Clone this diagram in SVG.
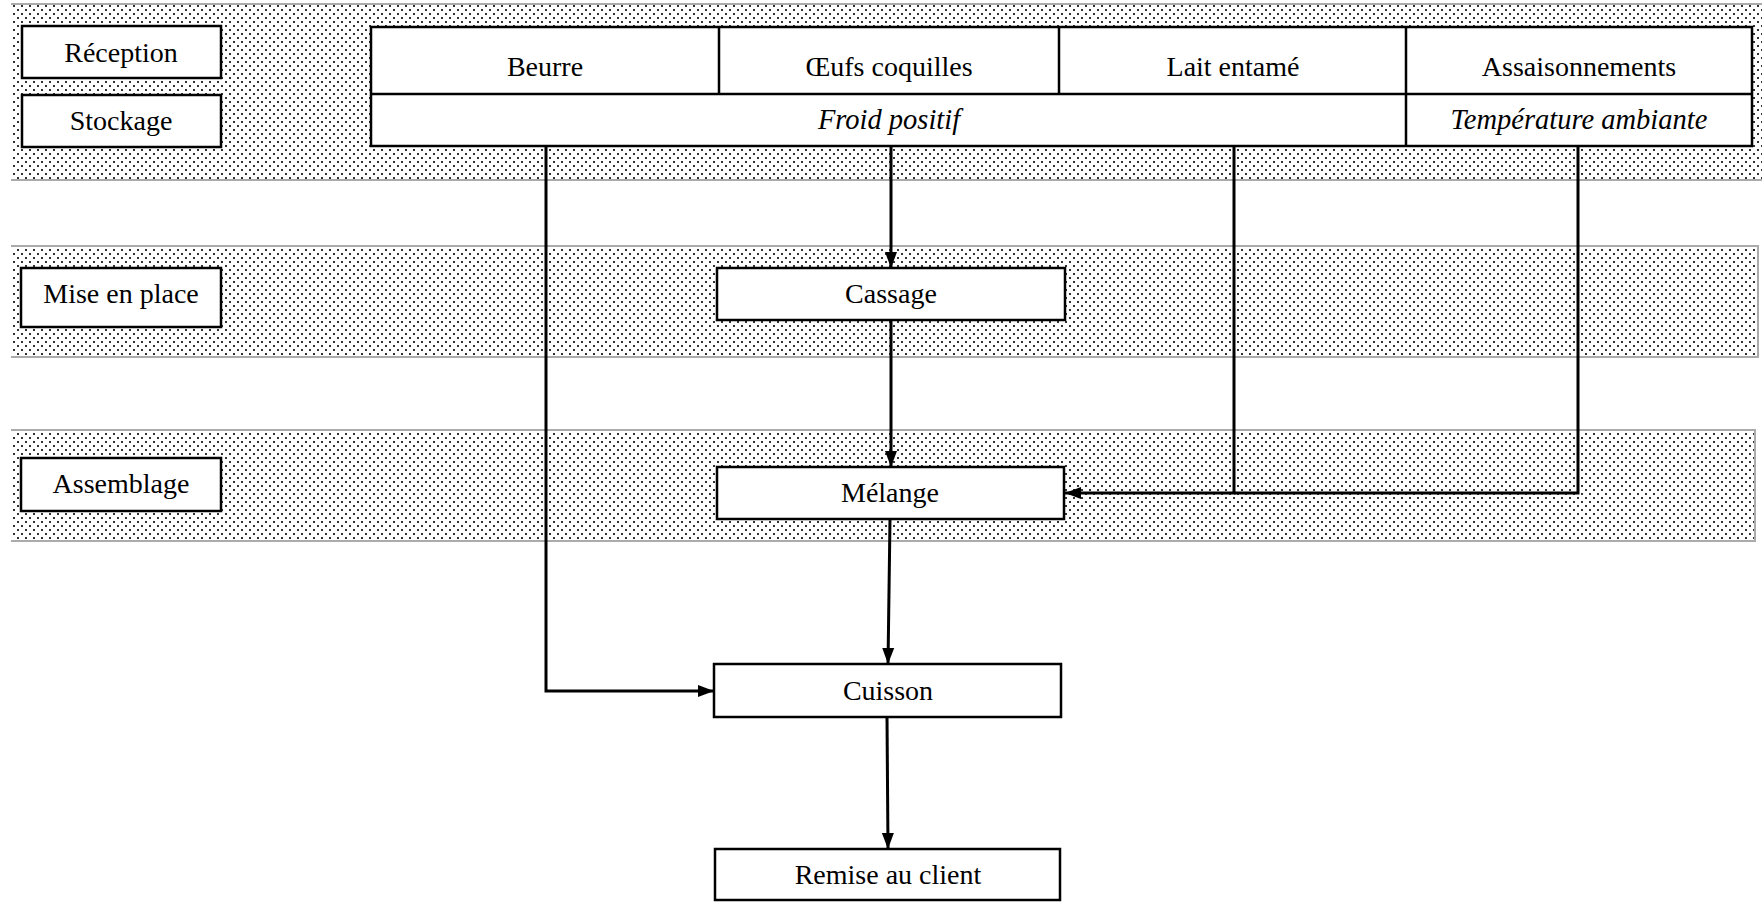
<svg xmlns="http://www.w3.org/2000/svg" width="1762" height="902" viewBox="0 0 1762 902">
  <style>
    .band-edge { fill: none; stroke: #ababab; stroke-width: 2; }
    .box { fill: #ffffff; stroke: #000000; stroke-width: 2.5; }
    .rule { fill: none; stroke: #000000; stroke-width: 2.5; }
    .flow { fill: none; stroke: #000000; stroke-width: 3; }
    text { font-family: "Liberation Serif", "Times New Roman", serif; font-size: 28px; fill: #000000; text-anchor: middle; }
    .it { font-style: italic; font-size: 28.5px; }
  </style>
  <defs>
    <pattern id="dots" x="0" y="0" width="8" height="8" patternUnits="userSpaceOnUse">
      <rect width="8" height="8" fill="#ffffff"/>
      <rect x="1" y="1" width="2" height="2" fill="#333333"/>
      <rect x="5" y="5" width="2" height="2" fill="#333333"/>
    </pattern>
    <marker id="head" markerUnits="userSpaceOnUse" markerWidth="17" markerHeight="14" refX="16" refY="7" orient="auto">
      <path d="M0,1 L16,7 L0,13 Z" fill="#000000"/>
    </marker>
  </defs>

  <!-- shaded stage bands -->
  <g id="band-reception">
    <rect x="11" y="4" width="1751" height="176" fill="url(#dots)"/>
    <path class="band-edge" d="M11,4 H1762 M11,180 H1762"/>
  </g>
  <g id="band-mise-en-place">
    <rect x="11" y="246" width="1747" height="111" fill="url(#dots)"/>
    <path class="band-edge" d="M11,246 H1758 V357 H11"/>
  </g>
  <g id="band-assemblage">
    <rect x="11" y="430" width="1744" height="111" fill="url(#dots)"/>
    <path class="band-edge" d="M11,430 H1755 V541 H11"/>
  </g>

  <!-- stage labels -->
  <g id="label-reception">
    <rect class="box" x="22" y="26" width="199" height="52"/>
    <text x="121" y="62">Réception</text>
  </g>
  <g id="label-stockage">
    <rect class="box" x="22" y="95" width="199" height="52"/>
    <text x="121" y="130">Stockage</text>
  </g>
  <g id="label-mise-en-place">
    <rect class="box" x="21" y="268" width="200" height="59"/>
    <text x="121" y="303">Mise en place</text>
  </g>
  <g id="label-assemblage">
    <rect class="box" x="21" y="458" width="200" height="53"/>
    <text x="121" y="493">Assemblage</text>
  </g>

  <!-- ingredients table -->
  <g id="ingredients">
    <rect class="box" x="371" y="27" width="1381" height="119"/>
    <path class="rule" d="M371,94 H1752 M719,27 V94 M1059,27 V94 M1406,27 V146"/>
    <text x="545" y="76">Beurre</text>
    <text x="889" y="76">Œufs coquilles</text>
    <text x="1233" y="76">Lait entamé</text>
    <text x="1579" y="76">Assaisonnements</text>
    <text class="it" x="889" y="129">Froid positif</text>
    <text class="it" x="1579" y="129">Température ambiante</text>
  </g>

  <!-- process steps -->
  <g id="cassage">
    <rect class="box" x="717" y="268" width="348" height="52"/>
    <text x="891" y="303">Cassage</text>
  </g>
  <g id="melange">
    <rect class="box" x="717" y="467" width="347" height="52"/>
    <text x="890" y="502">Mélange</text>
  </g>
  <g id="cuisson">
    <rect class="box" x="714" y="664" width="347" height="53"/>
    <text x="888" y="700">Cuisson</text>
  </g>
  <g id="remise">
    <rect class="box" x="715" y="849" width="345" height="51"/>
    <text x="888" y="884">Remise au client</text>
  </g>

  <!-- connectors -->
  <g id="connectors">
    <path class="flow" d="M546,146 V691 H714" marker-end="url(#head)"/>
    <path class="flow" d="M891,146 V268" marker-end="url(#head)"/>
    <path class="flow" d="M891,320 V467" marker-end="url(#head)"/>
    <path class="flow" d="M1578,146 V493 H1234"/>
    <path class="flow" d="M1234,146 V493 H1065" marker-end="url(#head)"/>
    <path class="flow" d="M890,519 L888,664" marker-end="url(#head)"/>
    <path class="flow" d="M887,717 L888,849" marker-end="url(#head)"/>
  </g>
</svg>
